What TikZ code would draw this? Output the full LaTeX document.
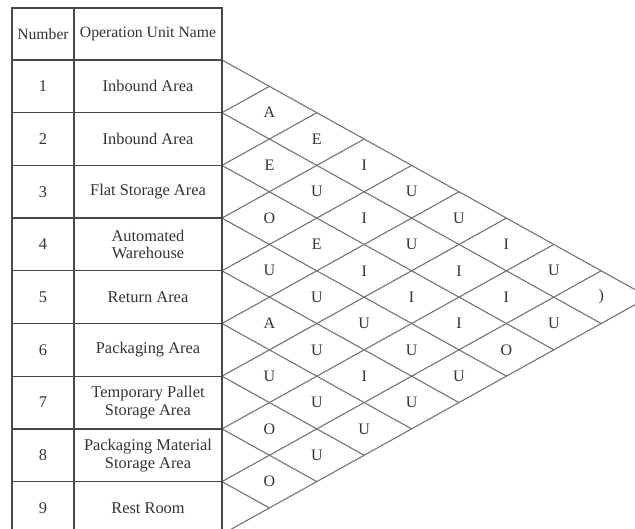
\documentclass[tikz,border=0pt]{standalone}
\usepackage{fontspec}
\setmainfont{Liberation Serif}
\begin{document}
\begin{tikzpicture}[x=1pt,y=-1pt,
  tline/.style={draw=black!72,line width=1.3pt},
  dline/.style={draw=black!55,line width=1.1pt},
  cell/.style={font=\fontsize{16.4}{17.8}\selectfont,text=black!80,align=center,inner sep=0pt},
  head/.style={font=\fontsize{15.7}{17}\selectfont,text=black!80,inner sep=0pt},
  rel/.style={font=\fontsize{16}{17}\selectfont,text=black!80,inner sep=0pt}]
\useasboundingbox (0,0) rectangle (635,529);
\clip (0,0) rectangle (635,529);
\def\rh{52.7}
\def\hw{47.4}
\def\hh{26.35}
% left-edge vertices of the relationship triangle
\foreach \k in {0,...,9} \coordinate (L\k) at (222,{60+2*\k*\hh});
% diamond grid
\foreach \k in {0,...,8} \draw[dline] (L\k) -- ({222+(9-\k)*\hw},{60+(9+\k)*\hh});
\foreach \k in {1,...,9} \draw[dline] (L\k) -- ({222+\k*\hw},{60+\k*\hh});
% relationship letters
\foreach \i/\j/\t in {1/2/A,1/3/E,2/3/E,1/4/I,2/4/U,1/5/U,3/4/O,2/5/I,1/6/U,
  3/5/E,2/6/U,1/7/I,4/5/U,3/6/I,2/7/I,1/8/U,4/6/U,3/7/I,2/8/I,
  5/6/A,4/7/U,3/8/I,2/9/U,5/7/U,4/8/U,3/9/O,6/7/U,5/8/I,4/9/U,
  6/8/U,5/9/U,7/8/O,6/9/U,7/9/U,8/9/O}
  \node[rel] (r\i\j) at ({222+(\j-\i)*\hw},{60+(\i+\j-1)*\hh}) {\t};
\node[rel] (r19) at ({222+8*\hw},{60+9*\hh}) {)};
% table
\draw[tline] (12,8) rectangle (222,{60+9*\rh});
\draw[tline] (74,8) -- (74,{60+9*\rh});
\foreach \k in {0,...,8} \draw[tline] (12,{60+\k*\rh}) -- (222,{60+\k*\rh});
\node[head] (hn) at (43,34) {Number};
\node[head] (hu) at (148,34) {Operation Unit Name};
\foreach \k in {1,...,9} \node[cell] (n\k) at (43,{60+(\k-0.5)*\rh}) {\k};
\node[cell] (u1) at (148,{60+0.5*\rh}) {Inbound Area};
\node[cell] (u2) at (148,{60+1.5*\rh}) {Inbound Area};
\node[cell] (u3) at (148,{60+2.5*\rh}) {Flat Storage Area};
\node[cell] (u4) at (148,{60+3.5*\rh}) {Automated\\Warehouse};
\node[cell] (u5) at (148,{60+4.5*\rh}) {Return Area};
\node[cell] (u6) at (148,{60+5.5*\rh}) {Packaging Area};
\node[cell] (u7) at (148,{60+6.5*\rh}) {Temporary Pallet\\Storage Area};
\node[cell] (u8) at (148,{60+7.5*\rh}) {Packaging Material\\Storage Area};
\node[cell] (u9) at (148,{60+8.5*\rh}) {Rest Room};
\end{tikzpicture}
\end{document}
